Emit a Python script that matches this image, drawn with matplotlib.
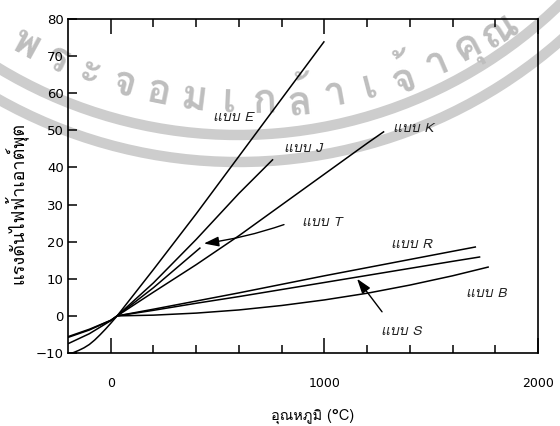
import numpy as np
import matplotlib
matplotlib.use("Agg")
import matplotlib.pyplot as plt
from matplotlib import font_manager
from matplotlib.ft2font import FT2Font
from matplotlib.patches import Arc

# ---- pick an installed font with Thai glyphs ----
thai_names = []
for f in font_manager.fontManager.ttflist:
    try:
        cm = FT2Font(f.fname).get_charmap()
        if 0x0E41 in cm and 0x0E1A in cm and f.name not in thai_names:
            thai_names.append(f.name)
    except Exception:
        pass
THAI = "DejaVu Sans"
for pref in ["Loma", "Garuda", "Tlwg Typo", "Umpush", "Waree", "FreeSerif"]:
    if pref in thai_names:
        THAI = pref
        break
else:
    if thai_names:
        THAI = thai_names[0]
FAM = [THAI, "DejaVu Sans"]

# ---- data (temperature °C, output mV) ----
E_t = [-200, -175, -150, -125, -100, -75, -50, -25, 0, 30, 200, 400, 600, 800, 1000]
E_v = [-10.3, -9.9, -9.3, -8.6, -7.7, -6.5, -5.1, -3.6, -2.0, 0, 12.5, 27.5, 43.0, 58.5, 74.0]
J_t = [-200, -100, 0, 30, 200, 400, 600, 760]
J_v = [-7.5, -4.8, -1.3, 0, 8.9, 20.6, 33.0, 42.2]
K_t = [-200, -100, 0, 30, 200, 400, 600, 800, 1000, 1200, 1280]
K_v = [-5.8, -3.8, -1.2, 0, 6.4, 13.8, 21.6, 29.9, 38.2, 46.5, 49.7]
T_t = [-200, -100, 0, 30, 200, 420]
T_v = [-5.6, -3.6, -1.2, 0, 7.6, 18.4]
R_t = [30, 200, 400, 600, 800, 1000, 1200, 1400, 1600, 1710]
R_v = [0, 1.8, 4.0, 6.2, 8.5, 10.8, 13.0, 15.2, 17.4, 18.6]
S_t = [30, 200, 400, 600, 800, 1000, 1200, 1400, 1600, 1730]
S_v = [0, 1.5, 3.4, 5.2, 7.1, 9.0, 10.9, 12.8, 14.7, 15.9]
B_t = [30, 200, 400, 600, 800, 1000, 1200, 1400, 1600, 1770]
B_v = [0, 0.2, 0.75, 1.6, 2.8, 4.3, 6.1, 8.3, 10.8, 13.2]

x_ticks = [0, 1000, 2000]
x_minor = [200, 400, 600, 800, 1200, 1400, 1600, 1800]
y_ticks = [-10, 0, 10, 20, 30, 40, 50, 60, 70, 80]
x_label = "อุณหภูมิ (°C)"
y_label = "แรงดันไฟฟ้าเอาต์พุต"
labels = {"E": "แบบ E", "J": "แบบ J", "K": "แบบ K", "T": "แบบ T",
          "R": "แบบ R", "B": "แบบ B", "S": "แบบ S"}
watermark = ["พ", "ร", "ะ", "จ", "อ", "ม", "เ", "ก", "ล้", "า", "เ", "จ้", "า", "คุ", "ณ"]

W, H = 560, 426
fig = plt.figure(figsize=(W / 100, H / 100), dpi=100)

# ---- background watermark (figure pixel coordinates, y downward) ----
bg = fig.add_axes([0, 0, 1, 1], zorder=0)
bg.set_xlim(0, W)
bg.set_ylim(H, 0)
bg.axis("off")
WM = "#cdcdcd"
bcx, bcy = 238, -327
for r, lw in [(462, 7.5), (489, 7.5)]:
    bg.add_patch(Arc((bcx, bcy), 2 * r, 2 * r, theta1=30, theta2=140,
                     color=WM, lw=lw))
# logo hint at top centre
for (ex, ey, ew, eh) in [(300, -4, 110, 52), (395, -2, 95, 44)]:
    bg.add_patch(Arc((ex, ey), ew, eh, theta1=180, theta2=360, color=WM, lw=6))
n = len(watermark)
cx, cy, r_txt = 251, -369, 472
x_start, x_end = 25, 500
th0 = np.degrees(np.arcsin((x_start - cx) / r_txt))
th1 = np.degrees(np.arcsin((x_end - cx) / r_txt))
for i, ch in enumerate(watermark):
    th = np.radians(th0 + (th1 - th0) * i / (n - 1))
    px = cx + r_txt * np.sin(th)
    py = cy + r_txt * np.cos(th)
    bg.text(px, py, ch, family=FAM, fontsize=29, fontweight="bold",
            color="#bebebe", ha="center", va="center",
            rotation=np.degrees(th), rotation_mode="anchor")

# ---- main chart ----
ax = fig.add_axes([68 / W, 1 - 353 / H, 470 / W, 334 / H], zorder=1)
ax.patch.set_alpha(0)

for t, v in [(E_t, E_v), (J_t, J_v), (K_t, K_v), (T_t, T_v),
             (R_t, R_v), (S_t, S_v), (B_t, B_v)]:
    ax.plot(t, v, color="black", lw=1.1, solid_capstyle="butt")

ax.set_xlim(-200, 2000)
ax.set_ylim(-10, 80)
ax.set_xticks(x_ticks)
ax.set_xticks(x_minor, minor=True)
ax.set_yticks(y_ticks)
ax.tick_params(axis="x", which="major", direction="in", length=11, width=1.1,
               top=True, bottom=True, pad=17, labelsize=9)
ax.tick_params(axis="x", which="minor", direction="in", length=5.5, width=1.1,
               top=True, bottom=True)
ax.tick_params(axis="y", which="major", direction="in", length=6.5, width=1.1,
               left=True, right=False, pad=3, labelsize=9.5)
for s in ax.spines.values():
    s.set_linewidth(1.2)
    s.set_color("black")

lab_kw = dict(family=FAM, style="italic", fontsize=10, ha="center", va="center",
              color="#222222")
ax.text(572, 53.2, labels["E"], **lab_kw)
ax.text(900, 45.1, labels["J"], **lab_kw)
ax.text(1416, 50.3, labels["K"], **lab_kw)
ax.text(989, 24.9, labels["T"], **lab_kw)
ax.text(1406, 19.2, labels["R"], **lab_kw)
ax.text(1758, 5.9, labels["B"], **lab_kw)
ax.text(1360, -4.3, labels["S"], **lab_kw)

arrow_kw = dict(arrowstyle="-|>,head_length=0.9,head_width=0.3", color="black",
                lw=1.0, shrinkA=0, shrinkB=0)
ax.annotate("", xy=(436, 19.5), xytext=(811, 24.6),
            arrowprops=dict(connectionstyle="arc3,rad=-0.05", **arrow_kw))
ax.annotate("", xy=(1153, 10.0), xytext=(1270, 1.1),
            arrowprops=dict(connectionstyle="arc3,rad=0", **arrow_kw))

fig.text(313 / W, 1 - 416 / H, x_label, family=FAM, fontsize=10.5, ha="center",
         va="center")
fig.text(15 / W, 1 - 203 / H, y_label, family=FAM, fontsize=13, ha="center",
         va="center", rotation=90)

fig.savefig("out.png", dpi=100)
